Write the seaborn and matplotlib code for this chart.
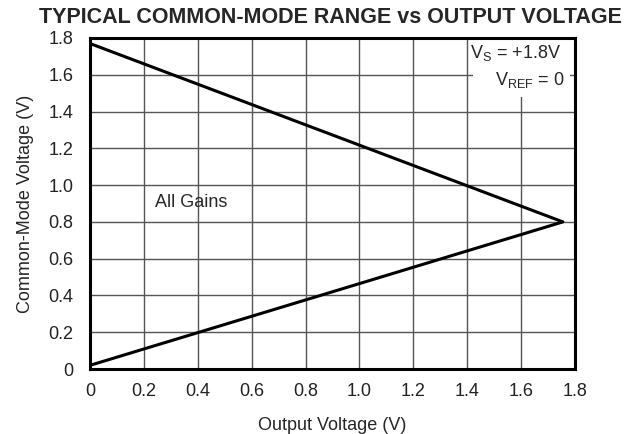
import matplotlib
matplotlib.use("Agg")
import matplotlib.pyplot as plt
from matplotlib.patches import Rectangle
import seaborn as sns
import pandas as pd

# triangle outline: output voltage vs common-mode voltage
output_v = [0.0, 1.755, 0.0]
common_mode_v = [1.77, 0.80, 0.02]

x_ticks = [0, 0.2, 0.4, 0.6, 0.8, 1.0, 1.2, 1.4, 1.6, 1.8]
x_labels = ["0", "0.2", "0.4", "0.6", "0.8", "1.0", "1.2", "1.4", "1.6", "1.8"]
y_ticks = [0, 0.2, 0.4, 0.6, 0.8, 1.0, 1.2, 1.4, 1.6, 1.8]
y_labels = ["0", "0.2", "0.4", "0.6", "0.8", "1.0", "1.2", "1.4", "1.6", "1.8"]

sns.set_theme(style="white")
plt.rcParams["font.family"] = ["Liberation Sans", "DejaVu Sans"]
plt.rcParams["mathtext.fontset"] = "custom"
plt.rcParams["mathtext.rm"] = "Liberation Sans"

df = pd.DataFrame({"x": output_v, "y": common_mode_v})

fig = plt.figure(figsize=(6.36, 4.34), dpi=100)
ax = fig.add_axes([90 / 636, 1 - 369 / 434, 485 / 636, 331 / 434])

sns.lineplot(data=df, x="x", y="y", sort=False, estimator=None,
             color="black", linewidth=2.2, ax=ax, zorder=3)

ax.set_xlim(0, 1.8)
ax.set_ylim(0, 1.8)
ax.set_xticks(x_ticks)
ax.set_xticklabels(x_labels)
ax.set_yticks(y_ticks)
ax.set_yticklabels(y_labels)
ax.tick_params(axis="x", length=0, labelsize=13, colors="#222222", pad=10)
ax.tick_params(axis="y", length=0, labelsize=13, colors="#222222", pad=12)
ax.grid(True, color="#555555", linewidth=1.0)
for s in ax.spines.values():
    s.set_color("black")
    s.set_linewidth(2.2)

ax.set_xlabel("Output Voltage (V)", fontsize=13, labelpad=12)
ax.set_ylabel("Common-Mode Voltage (V)", fontsize=13, labelpad=10)
fig.text(0.519, 1 - 17.5 / 434, "TYPICAL COMMON-MODE RANGE vs OUTPUT VOLTAGE",
         fontsize=15.5, fontweight="bold", ha="center", va="center")

ax.text(0.376, 0.904, "All Gains", fontsize=13, ha="center", va="center")

# white patch behind the supply annotation hides the grid there
ax.add_patch(Rectangle((1.42, 1.48), 0.36, 0.32, facecolor="white",
                       edgecolor="none", zorder=2))
ax.text(1.749, 1.691, r"$\mathregular{V_S}$ = +1.8V", fontsize=13,
        ha="right", va="baseline", zorder=4)
ax.text(1.761, 1.544, r"$\mathregular{V_{REF}}$ = 0", fontsize=13,
        ha="right", va="baseline", zorder=4)

fig.savefig("out.png", dpi=100)
